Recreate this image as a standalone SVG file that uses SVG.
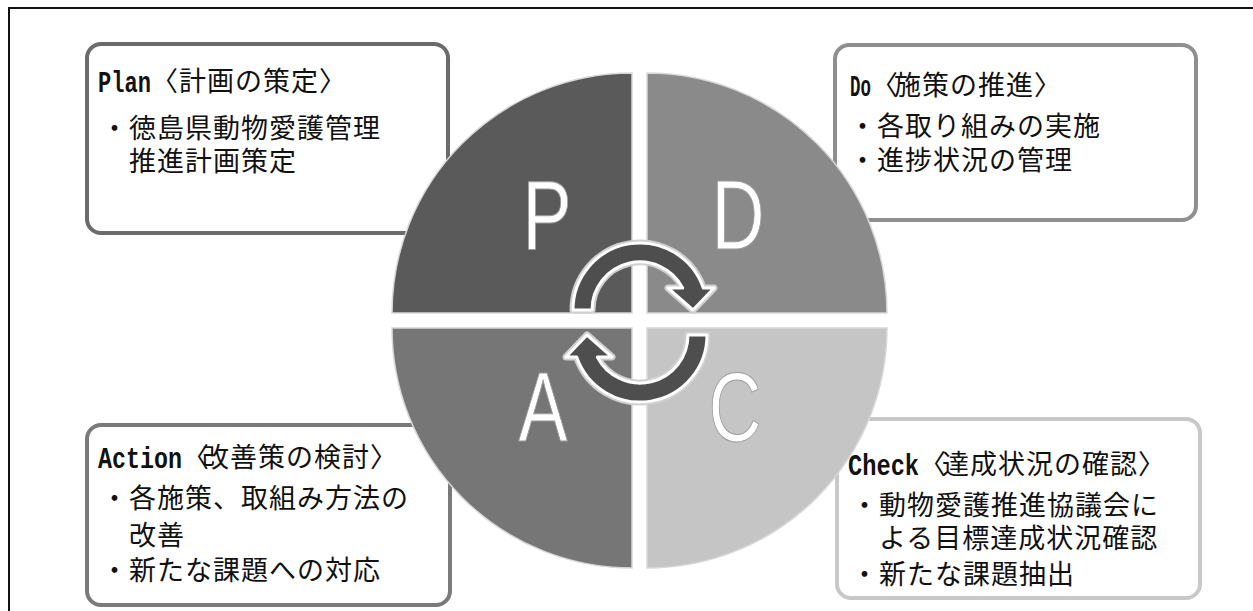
<svg xmlns="http://www.w3.org/2000/svg" width="1253" height="611" viewBox="0 0 1253 611">
<style>
.box{fill:#ffffff;stroke-width:4}
.jp{font-family:"Noto Sans CJK JP","Noto Sans CJK SC",sans-serif;font-size:27px;letter-spacing:1px;fill:#111}
.lat{font-family:"Liberation Mono","DejaVu Sans Mono",monospace;font-size:30px;font-weight:bold;fill:#111}
.big{font-family:"Liberation Sans",Arial,sans-serif;font-size:98px;fill:#ffffff;stroke:#9a9a9a;stroke-width:1;text-anchor:middle}
.q{stroke:#d8d8d8;stroke-width:1.5}
.arrowHalo{fill:none;stroke:#d0d0d0;stroke-width:7;stroke-linejoin:round}
.arrow{fill:#4e4e4e;stroke:#ffffff;stroke-width:3;stroke-linejoin:round}
</style>
<defs>
<path id="arr" d="M573,310 A67,67 0 0 1 703.3,288 L714,288 L693,310 L668,288 L682.7,288 A48,48 0 0 0 592,310 Z"/>
</defs>
<rect x="9" y="8" width="1300" height="700" fill="none" stroke="#111" stroke-width="2"/>

<g id="plan-box">
<rect class="box" x="87" y="44" width="361" height="189" rx="14" stroke="#6b6b6b"/>
<text class="lat" transform="translate(98,92) scale(0.736,1)">Plan</text>
<text class="jp"><tspan x="151 179" y="91">〈計画の策定〉</tspan><tspan x="101" y="138">・徳島県動物愛護管理</tspan><tspan x="129" y="171">推進計画策定</tspan></text>
</g>

<g id="do-box">
<rect class="box" x="835" y="45" width="361" height="175" rx="14" stroke="#8f8f8f"/>
<text class="lat" transform="translate(850,96) scale(0.58,1)">Do</text>
<text class="jp"><tspan x="871 894" y="95">〈施策の推進〉</tspan><tspan x="849" y="136">・各取り組みの実施</tspan><tspan x="849" y="170">・進捗状況の管理</tspan></text>
</g>

<g id="action-box">
<rect class="box" x="87" y="425" width="363" height="180" rx="14" stroke="#7a7a7a"/>
<text class="lat" transform="translate(98,468) scale(0.778,1)">Action</text>
<text class="jp"><tspan x="182 202" y="467">〈改善策の検討〉</tspan><tspan x="101" y="508">・各施策、取組み方法の</tspan><tspan x="129" y="545">改善</tspan><tspan x="101" y="580">・新たな課題への対応</tspan></text>
</g>

<g id="check-box">
<rect class="box" x="837" y="419" width="363" height="179" rx="14" stroke="#c8c8c8"/>
<text class="lat" transform="translate(848,475) scale(0.79,1)">Check</text>
<text class="jp"><tspan x="919 942" y="474">〈達成状況の確認〉</tspan><tspan x="851" y="515">・動物愛護推進協議会に</tspan><tspan x="879" y="548">よる目標達成状況確認</tspan><tspan x="851" y="584">・新たな課題抽出</tspan></text>
</g>

<g id="cycle">
<path id="q-p" class="q" fill="#5a5a5a" d="M632,313 L392,313 A240,240 0 0 1 632,73 Z"/>
<path id="q-d" class="q" fill="#8a8a8a" d="M647,313 L647,73 A240,240 0 0 1 887,313 Z"/>
<path id="q-c" class="q" fill="#c5c5c5" d="M647,328 L887,328 A240,240 0 0 1 647,568 Z"/>
<path id="q-a" class="q" fill="#767676" d="M632,328 L632,568 A240,240 0 0 1 392,328 Z"/>
<text class="big" transform="translate(547,249) scale(0.75,1)">P</text>
<text class="big" transform="translate(738,249) scale(0.75,1)">D</text>
<text class="big" transform="translate(543,441) scale(0.75,1)">A</text>
<text class="big" transform="translate(735,441) scale(0.75,1)">C</text>
</g>

<g id="connectors">
<use href="#arr" class="arrowHalo"/>
<use href="#arr" class="arrow"/>
<g transform="rotate(180,640,322.5)">
<use href="#arr" class="arrowHalo"/>
<use href="#arr" class="arrow"/>
</g>
</g>
</svg>
